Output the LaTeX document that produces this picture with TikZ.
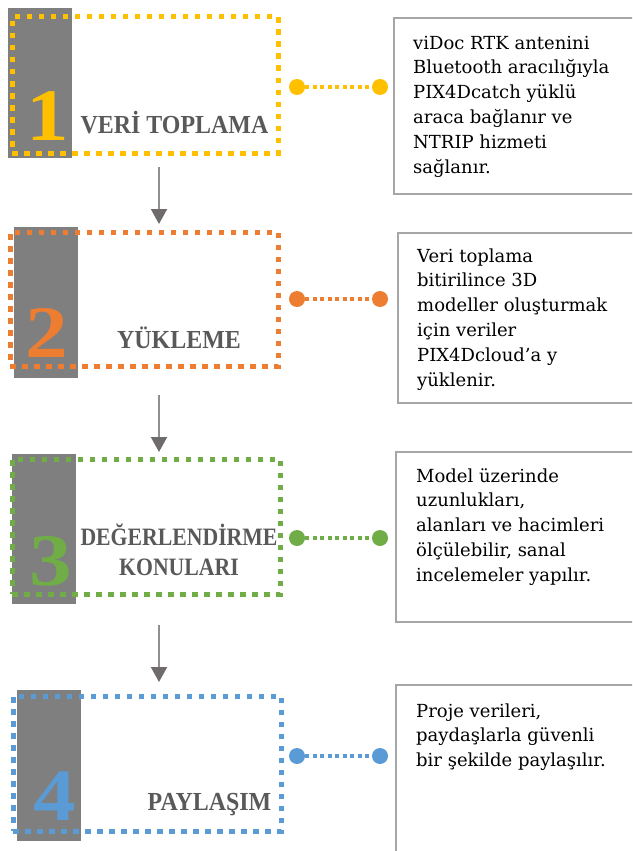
\documentclass[tikz,border=0pt]{standalone}
\usepackage{fontspec}
\setmainfont{DejaVu Serif}
\newfontfamily\headfont[FakeStretch=0.92]{Liberation Serif}
\newfontfamily\headfontdar[FakeStretch=0.87]{Liberation Serif}
\newfontfamily\digitfont[FakeStretch=1.15]{Liberation Serif}
\usetikzlibrary{arrows.meta,positioning}

\definecolor{sari}{HTML}{FFC000}
\definecolor{turuncu}{HTML}{ED7D31}
\definecolor{yesil}{HTML}{70AD47}
\definecolor{mavi}{HTML}{5B9BD5}
\definecolor{koyugri}{HTML}{7F7F7F}
\definecolor{yazigri}{HTML}{595959}
\definecolor{cizgigri}{HTML}{A6A6A6}
\definecolor{okgri}{HTML}{6F6B6B}
\definecolor{govdegri}{HTML}{8F8F8F}

\tikzset{
    bar/.style={fill=koyugri},
    stage/.style={draw=#1, line width=5pt, dash pattern=on 5.5pt off 6.5pt,
        inner sep=0pt, outer sep=0pt, minimum width=268pt, minimum height=135pt},
    digit/.style={text=#1, font=\digitfont\fontsize{74}{74}\selectfont\bfseries,
        inner sep=0pt, anchor=base},
    head/.style={text=yazigri, font=\headfont\fontsize{26}{29}\selectfont\bfseries,
        inner sep=0pt, anchor=base},
    headdar/.style={head, font=\headfontdar\fontsize{25}{29}\selectfont\bfseries},
    dot/.style={circle, fill=#1, minimum size=16pt, inner sep=0pt},
    link/.style={draw=#1, line width=3.4pt, dash pattern=on 4pt off 3.5pt},
    descbox/.style={draw=cizgigri, line width=2pt, anchor=north west,
        minimum width=260pt, inner sep=0pt},
    desc/.style={anchor=north west, align=left, inner sep=0pt,
        font=\fontsize{18}{24.8}\selectfont},
    flow/.style={draw=govdegri, line width=2pt,
        -{Triangle[width=16pt,length=15pt,color=okgri]}},
}

\begin{document}
\begin{tikzpicture}[x=1pt, y=-1pt]
    \clip (0,0) rectangle (632,851);

    % 1：veri toplama
    \fill[bar] (8,8) rectangle (72,158);
    \node[stage=sari, minimum width=266pt, minimum height=136pt] (s1) at (145,85) {};
    \node[digit=sari] (n1) at (47.5,140) {1};
    \node[head] (h1) at (174.5,133) {VERİ TOPLAMA};
    \node[dot=sari] (c1a) at (297,87) {};
    \node[dot=sari] (c1b) at (380,87) {};
    \draw[link=sari] (c1a) -- (c1b);
    \node[descbox, minimum height=176pt] (b1) at (393,17) {};
    \node[desc] (t1) at ([xshift=20pt,yshift=-14.5pt]b1.north west)
        {\strut viDoc RTK antenini\\ Bluetooth aracılığıyla\\ PIX4Dcatch yüklü\\
         araca bağlanır ve\\ NTRIP hizmeti\\ sağlanır.};

    % 2：yükleme
    \fill[bar] (14,227) rectangle (78,378);
    \node[stage=turuncu, minimum height=134pt] (s2) at (144,299) {};
    \node[digit=turuncu] (n2) at (46.5,357) {2};
    \node[head] (h2) at (179,348) {YÜKLEME};
    \node[dot=turuncu] (c2a) at (297,299) {};
    \node[dot=turuncu] (c2b) at (380,299) {};
    \draw[link=turuncu] (c2a) -- (c2b);
    \node[descbox, minimum height=170pt] (b2) at (397,232) {};
    \node[desc] (t2) at ([xshift=20pt,yshift=-12.5pt]b2.north west)
        {\strut Veri toplama\\ bitirilince 3D\\ modeller oluşturmak\\
         için veriler\\ PIX4Dcloud’a y\\ yüklenir.};

    % 3：değerlendirme
    \fill[bar] (12,454) rectangle (76,604);
    \node[stage=yesil] (s3) at (146,526.5) {};
    \node[digit=yesil] (n3) at (50.5,585) {3};
    \node[headdar] (h3a) at (179,545) {DEĞERLENDİRME};
    \node[headdar] (h3b) at (179,575.5) {KONULARI};
    \node[dot=yesil] (c3a) at (297,538) {};
    \node[dot=yesil] (c3b) at (380,538) {};
    \draw[link=yesil] (c3a) -- (c3b);
    \node[descbox, minimum height=170pt] (b3) at (395,451) {};
    \node[desc] (t3) at ([xshift=21pt,yshift=-13.5pt]b3.north west)
        {\strut Model üzerinde\\ uzunlukları,\\ alanları ve hacimleri\\
         ölçülebilir, sanal\\ incelemeler yapılır.};

    % 4：paylaşım
    \fill[bar] (17,690) rectangle (81,841);
    \node[stage=mavi] (s4) at (147,763.5) {};
    \node[digit=mavi] (n4) at (54.5,820) {4};
    \node[head] (h4) at (209.5,810) {PAYLAŞIM};
    \node[dot=mavi] (c4a) at (297,756) {};
    \node[dot=mavi] (c4b) at (380,756) {};
    \draw[link=mavi] (c4a) -- (c4b);
    \node[descbox, minimum height=200pt] (b4) at (395,684) {};
    \node[desc] (t4) at ([xshift=21pt,yshift=-15.5pt]b4.north west)
        {\strut Proje verileri,\\ paydaşlarla güvenli\\ bir şekilde paylaşılır.};

    % akış okları
    \draw[flow] ([xshift=14pt,yshift=-14pt]s1.south) -- ([xshift=15pt,yshift=8pt]s2.north);
    \draw[flow] ([xshift=15pt,yshift=-29pt]s2.south) -- ([xshift=13pt,yshift=7pt]s3.north);
    \draw[flow] ([xshift=13pt,yshift=-31pt]s3.south) -- ([xshift=12pt,yshift=14pt]s4.north);
\end{tikzpicture}
\end{document}
